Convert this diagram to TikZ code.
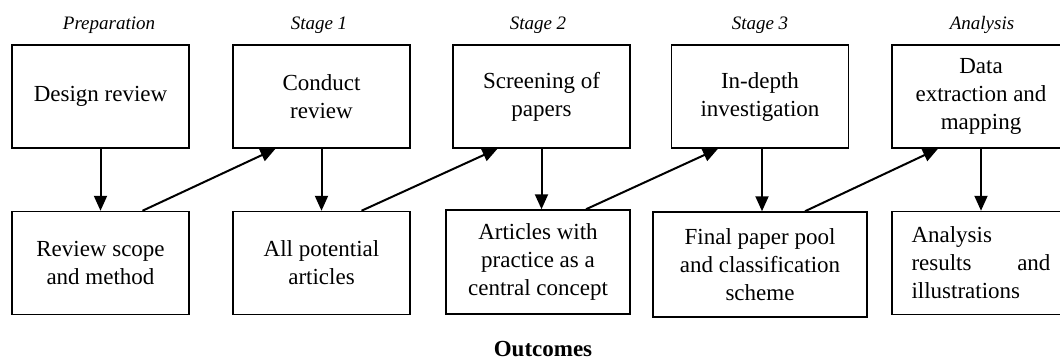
\documentclass[tikz,border=0pt]{standalone}
\usepackage{fontspec}
\setmainfont{Liberation Serif}
\usetikzlibrary{arrows.meta}

\begin{document}
\begin{tikzpicture}[x=0.5pt, y=-0.5pt,
  box/.style={draw, line width=0.75pt, align=center, inner sep=0pt,
              font=\fontsize{11.5}{14}\selectfont, minimum height=51.5pt, minimum width=88.5pt},
  stage/.style={font=\fontsize{9.5}{11}\selectfont\itshape},
  flow/.style={-{Triangle[width=6.5pt,length=7.5pt]}, line width=1pt}]
\useasboundingbox (0,0) rectangle (1060,359);
\clip (0,0) rectangle (1060,359);
\node[stage] (lprep) at (109,25) {Preparation};
\node[stage] (lone) at (319,25) {Stage 1};
\node[stage] (ltwo) at (538,25) {Stage 2};
\node[stage] (lthree) at (760,25) {Stage 3};
\node[stage] (lanalysis) at (982,25) {Analysis};
\node[box] (design) at (100.5,96.5) {Design review};
\node[box] (conduct) at (321.5,96.5) {Conduct\\review};
\node[box] (screening) at (541.5,96.5) {Screening of\\papers};
\node[box] (indepth) at (760,96.5) {In-depth\\investigation};
\node[box, minimum width=89pt] (extraction) at (981,96.5) {Data\\extraction and\\mapping};
\node[box] (scope) at (100.5,263) {Review scope\\and method};
\node[box] (potential) at (321.5,263) {All potential\\articles};
\node[box, minimum width=92pt, minimum height=52pt] (practice) at (538,262) {Articles with\\practice as a\\central concept};
\node[box, minimum width=107pt, minimum height=52.5pt] (pool) at (760,264.5) {Final paper pool\\and classification\\scheme};
\node[box, minimum width=89pt, text width=69.5pt, align=left] (results) at (981,263)
  {Analysis\\\leavevmode\hbox to 69.5pt{results\hfill and}\\illustrations};
\node[font=\fontsize{11.5}{14}\selectfont\bfseries, anchor=base] (outcomes) at (543,356.5) {Outcomes};
\draw[flow] (design.south) -- (design.south |- scope.north);
\draw[flow] (conduct.south) -- (conduct.south |- potential.north);
\draw[flow] (screening.south) -- (screening.south |- practice.north);
\draw[flow] ([xshift=1pt]indepth.south) -- ([xshift=1pt]indepth.south |- pool.north);
\draw[flow] (extraction.south) -- (extraction.south |- results.north);
\draw[flow] ([xshift=21pt]scope.north) -- ([xshift=-23pt]conduct.south);
\draw[flow] ([xshift=20pt]potential.north) -- ([xshift=-22pt]screening.south);
\draw[flow] ([xshift=24pt]practice.north) -- ([xshift=-21pt]indepth.south);
\draw[flow] ([xshift=22.5pt]pool.north) -- ([xshift=-21.5pt]extraction.south);
\end{tikzpicture}
\end{document}
